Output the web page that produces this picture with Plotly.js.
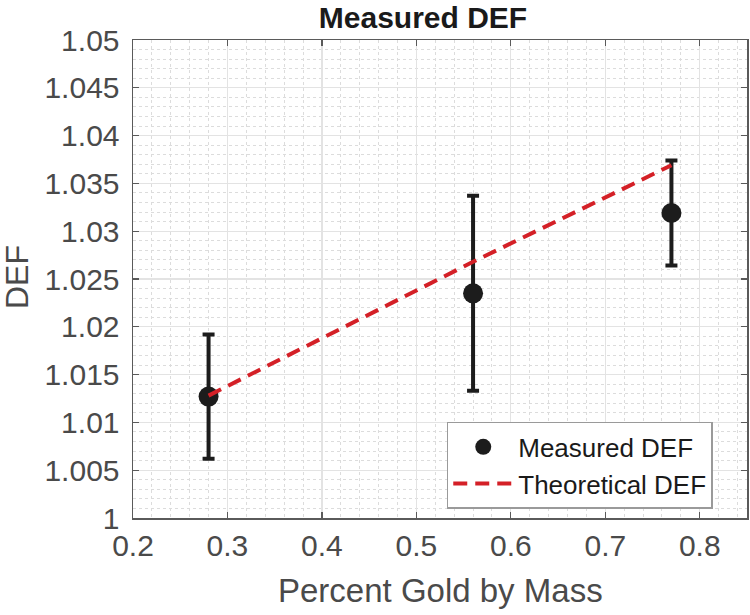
<!DOCTYPE html>
<html>
<head>
<meta charset="utf-8">
<script src="https://cdn.plot.ly/plotly-3.0.1.min.js"></script>
<style>html,body{margin:0;padding:0;background:#fff;}#chart{width:750px;height:615px;}</style>
</head>
<body>
<div id="chart"></div>
<script>
const goldFraction = [0.28, 0.56, 0.77];
const measuredDEF = [1.0127, 1.0235, 1.0319];
const measuredErr = [0.0065, 0.0102, 0.0055];
const theoryX = [0.28, 0.56, 0.77];
const theoreticalDEF = [1.0128, 1.0268, 1.0369];
const xTicks = [0.2, 0.3, 0.4, 0.5, 0.6, 0.7, 0.8];
const yTicks = [1, 1.005, 1.01, 1.015, 1.02, 1.025, 1.03, 1.035, 1.04, 1.045, 1.05];
const yTickText = ['1', '1.005', '1.01', '1.015', '1.02', '1.025', '1.03', '1.035', '1.04', '1.045', '1.05'];
const xTitle = 'Percent Gold by Mass';
const yTitle = 'DEF';

const FONT = 'Liberation Sans, Arial, sans-serif';
const txt = '#4a4a4a';

const traces = [
  {
    x: goldFraction, y: measuredDEF, type: 'scatter', mode: 'markers',
    name: 'Measured DEF',
    marker: {color: '#1c1c1c', size: 20, symbol: 'circle'},
    error_y: {type: 'data', array: measuredErr, visible: true, color: '#1c1c1c', thickness: 4, width: 6}
  },
  {
    x: theoryX, y: theoreticalDEF, type: 'scatter', mode: 'lines',
    name: 'Theoretical DEF',
    line: {color: '#d42027', width: 4, dash: '14px,8px'}
  }
];

const axisCommon = {
  showline: true, linecolor: '#5a5a5a', linewidth: 1.5, mirror: 'allticks',
  ticks: 'inside', ticklen: 6, tickwidth: 1.2, tickcolor: '#5a5a5a',
  showgrid: true, gridcolor: '#e3e3e3', gridwidth: 1.2,
  zeroline: false,
  tickfont: {family: FONT, size: 30, color: txt}
};

const layout = {
  width: 750, height: 615,
  margin: {l: 133, r: 3, t: 40, b: 97},
  paper_bgcolor: '#fff', plot_bgcolor: '#fff',
  title: {text: '<b>Measured DEF</b>', font: {family: FONT, size: 30, color: '#1a1a1a'},
          x: 0.564, xanchor: 'center', yref: 'container', y: 0.972, yanchor: 'middle'},
  xaxis: Object.assign({}, axisCommon, {
    range: [0.2, 0.85], tickvals: xTicks, ticktext: xTicks.map(v => v.toFixed(1)),
    minor: {dtick: 0.02, tick0: 0.2, showgrid: true, gridcolor: '#dcdcdc', griddash: 'dot', gridwidth: 1, ticks: ''}
  }),
  yaxis: Object.assign({}, axisCommon, {
    range: [1, 1.05], tickvals: yTicks, ticktext: yTickText,
    ticklabelstandoff: 6,
    minor: {dtick: 0.001, tick0: 1, showgrid: true, gridcolor: '#dcdcdc', griddash: 'dot', gridwidth: 1, ticks: ''}
  }),
  annotations: [
    {text: xTitle, xref: 'paper', yref: 'paper', x: 0.5, y: -0.152, xanchor: 'center', yanchor: 'middle',
     showarrow: false, font: {family: FONT, size: 33, color: txt}},
    {text: yTitle, xref: 'paper', yref: 'paper', x: -0.189, y: 0.504, xanchor: 'center', yanchor: 'middle',
     textangle: -90, showarrow: false, font: {family: FONT, size: 32, color: txt}}
  ],
  showlegend: true,
  legend: {
    x: 0.511, xanchor: 'left', y: 0.201, yanchor: 'top',
    bgcolor: '#ffffff', bordercolor: '#9a9a9a', borderwidth: 1.5,
    font: {family: FONT, size: 26, color: '#1a1a1a'},
    itemwidth: 60, tracegroupgap: 0
  }
};

Plotly.newPlot('chart', traces, layout, {displayModeBar: false, staticPlot: true});
</script>
</body>
</html>
